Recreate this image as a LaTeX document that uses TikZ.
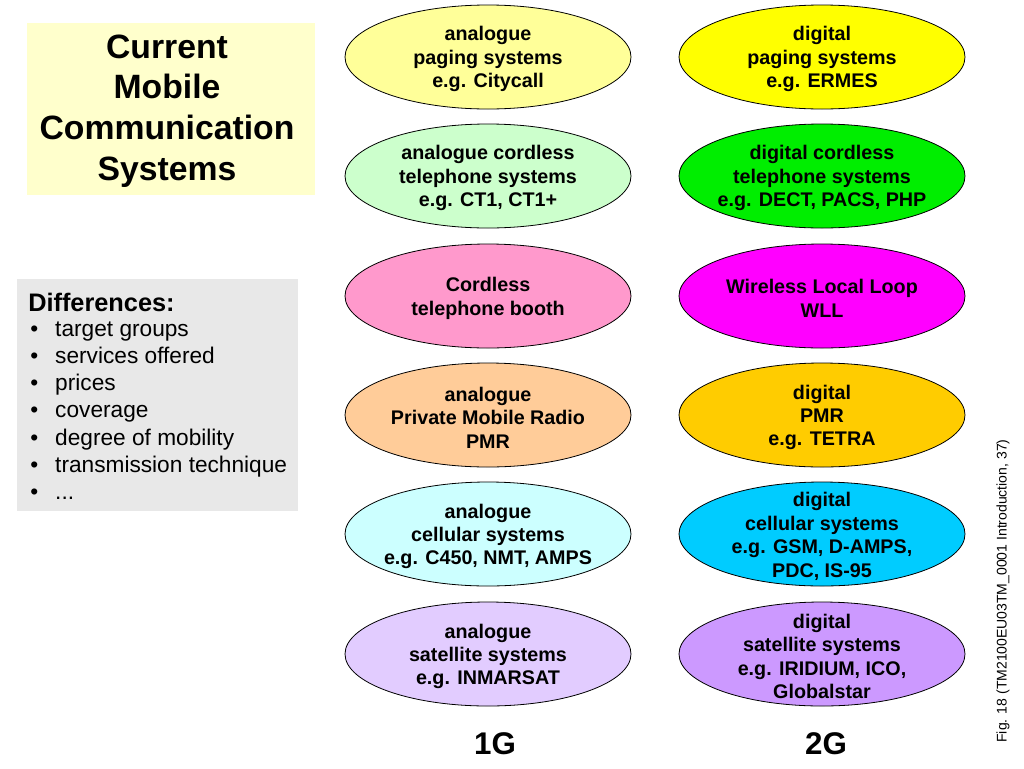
\documentclass[tikz,border=0pt]{standalone}
\usepackage{fontspec}
\setmainfont{Liberation Sans}
\usetikzlibrary{shapes.geometric}
\definecolor{titlebg}{HTML}{FFFFCC}
\definecolor{diffbg}{HTML}{E8E8E8}
\definecolor{la}{HTML}{FFFF99}
\definecolor{lb}{HTML}{CCFFCC}
\definecolor{lc}{HTML}{FF99CC}
\definecolor{ld}{HTML}{FFCC99}
\definecolor{le}{HTML}{CCFFFF}
\definecolor{lf}{HTML}{E2CCFF}
\definecolor{ra}{HTML}{FFFF00}
\definecolor{rb}{HTML}{00EE00}
\definecolor{rc}{HTML}{FF00FF}
\definecolor{rd}{HTML}{FFCC00}
\definecolor{re}{HTML}{00CCFF}
\definecolor{rf}{HTML}{CC99FF}
\newcommand{\bulitem}[1]{\makebox[18.75pt][l]{\textbullet}#1}
\begin{document}
\begin{tikzpicture}[x=0.75pt,y=-0.75pt,
  ell/.style={ellipse, draw=black, line width=0.6pt, minimum width=214.5pt, minimum height=78pt, inner sep=0pt},
  etext/.style={align=center, inner sep=0pt, yshift=-1.8pt, font=\fontsize{14.8pt}{17.6pt}\selectfont\bfseries},
  titletext/.style={align=center, inner sep=0pt, font=\fontsize{25.3pt}{30.5pt}\selectfont\bfseries},
  difftitle/.style={anchor=base west, inner sep=0pt, font=\fontsize{19pt}{22pt}\selectfont\bfseries},
  bul/.style={anchor=base west, inner sep=0pt, font=\fontsize{17pt}{20pt}\selectfont},
  gen/.style={inner sep=0pt, font=\fontsize{23.5pt}{26pt}\selectfont\bfseries},
  figref/.style={inner sep=0pt, rotate=90, font=\fontsize{10.5pt}{12pt}\selectfont}
]
\useasboundingbox (0,0) rectangle (1024,768);
\fill[white] (0,0) rectangle (1024,768);

% title box
\fill[titlebg] (27,23) rectangle (315,195);
\node[titletext] (title) at (167,111) {Current\\Mobile\\Communication\\Systems};

% differences box
\fill[diffbg] (17,279) rectangle (298,511);
\node[difftitle] (dt) at (28,311) {Differences:};
\node[bul] (d1) at (30,336.0) {\bulitem{target groups}};
\node[bul] (d2) at (30,363.3) {\bulitem{services offered}};
\node[bul] (d3) at (30,390.6) {\bulitem{prices}};
\node[bul] (d4) at (30,417.9) {\bulitem{coverage}};
\node[bul] (d5) at (30,445.2) {\bulitem{degree of mobility}};
\node[bul] (d6) at (30,472.5) {\bulitem{transmission technique}};
\node[bul] (d7) at (30,499.0) {\bulitem{...}};

% left column (1G)
\node[ell, fill=la] (l1) at (488,57) {};
\node[etext] (l1t) at (l1) {analogue\\paging systems\\e.g. Citycall};
\node[ell, fill=lb] (l2) at (488,176) {};
\node[etext] (l2t) at (l2) {analogue cordless\\telephone systems\\e.g. CT1, CT1+};
\node[ell, fill=lc] (l3) at (488,296) {};
\node[etext] (l3t) at (l3) {Cordless\\telephone booth};
\node[ell, fill=ld] (l4) at (488,415) {};
\node[etext] (l4t) at (l4) {analogue\\Private Mobile Radio\\PMR};
\node[ell, fill=le] (l5) at (488,534) {};
\node[etext] (l5t) at (l5) {analogue\\cellular systems\\e.g. C450, NMT, AMPS};
\node[ell, fill=lf] (l6) at (488,654) {};
\node[etext] (l6t) at (l6) {analogue\\satellite systems\\e.g. INMARSAT};

% right column (2G)
\node[ell, fill=ra] (r1) at (822,57) {};
\node[etext] (r1t) at (r1) {digital\\paging systems\\e.g. ERMES};
\node[ell, fill=rb] (r2) at (822,176) {};
\node[etext] (r2t) at (r2) {digital cordless\\telephone systems\\e.g. DECT, PACS, PHP};
\node[ell, fill=rc] (r3) at (822,296) {};
\node[etext] (r3t) at (r3) {Wireless Local Loop\\WLL};
\node[ell, fill=rd] (r4) at (822,415) {};
\node[etext] (r4t) at (r4) {digital\\PMR\\e.g. TETRA};
\node[ell, fill=re] (r5) at (822,534) {};
\node[etext] (r5t) at (r5) {digital\\cellular systems\\e.g. GSM, D-AMPS,\\PDC, IS-95};
\node[ell, fill=rf] (r6) at (822,654) {};
\node[etext] (r6t) at (r6) {digital\\satellite systems\\e.g. IRIDIUM, ICO,\\Globalstar};

% generation labels
\node[gen] (g1) at (495,744) {1G};
\node[gen] (g2) at (826,744) {2G};

% figure reference
\node[figref] (fig) at (1003,591) {Fig. 18 (TM2100EU03TM\_0001 Introduction, 37)};
\end{tikzpicture}
\end{document}
